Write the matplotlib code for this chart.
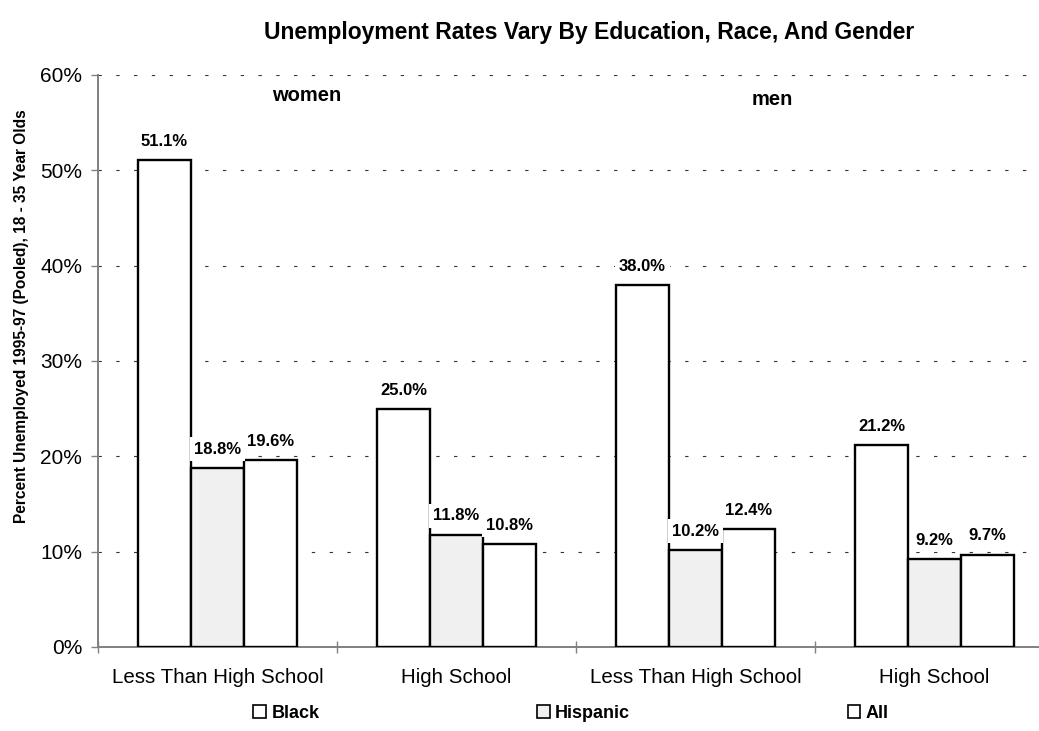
import matplotlib
matplotlib.use("Agg")
import matplotlib.pyplot as plt
from matplotlib.patches import Patch
from matplotlib.ticker import FuncFormatter, FixedLocator
import numpy as np

# ---- data ----
categories = ["Less Than High School", "High School", "Less Than High School", "High School"]
series_names = ["Black", "Hispanic", "All"]
black = [51.1, 25.0, 38.0, 21.2]
hispanic = [18.8, 11.8, 10.2, 9.2]
all_vals = [19.6, 10.8, 12.4, 9.7]
group_labels = ["women", "men"]
yticks = [0, 10, 20, 30, 40, 50, 60]

title = "Unemployment Rates Vary By Education, Race, And Gender"
ylabel = "Percent Unemployed 1995-97 (Pooled), 18 - 35 Year Olds"

plt.rcParams['font.family'] = ['Liberation Sans', 'DejaVu Sans']

W, H = 1039, 731
fig = plt.figure(figsize=(W / 100, H / 100), dpi=100)
left_px, right_px, top_px, bot_px = 98, 1039, 75, 647
ax = fig.add_axes([left_px / W, (H - bot_px) / H, (right_px - left_px) / W, (bot_px - top_px) / H])

x = np.arange(len(categories))
bw = 0.222
fills = ["white", "#f0f0f0", "white"]
series = [black, hispanic, all_vals]
for i, (vals, fc) in enumerate(zip(series, fills)):
    b = ax.bar(x + (i - 1) * bw, vals, width=bw, facecolor=fc, edgecolor="black",
               linewidth=1.7, zorder=3)
    for rect, v in zip(b, vals):
        ax.annotate(f"{v:.1f}%", (rect.get_x() + rect.get_width() / 2, rect.get_height()),
                    xytext=(0, 8), textcoords="offset points", ha="center", va="bottom",
                    fontsize=12, fontweight="bold", zorder=5,
                    bbox=dict(boxstyle="square,pad=0.25", facecolor="white", edgecolor="none"))

ax.set_ylim(0, 60)
ax.set_xlim(-0.5, 3.5 - 15 / 239)
ax.yaxis.set_major_locator(FixedLocator(yticks))
ax.yaxis.set_major_formatter(FuncFormatter(lambda v, p: f"{v:.0f}%"))
ax.set_xticks(x)
ax.set_xticklabels(categories)
ax.xaxis.set_minor_locator(FixedLocator([-0.5, 0.5, 1.5, 2.5]))

ax.tick_params(axis="x", which="major", length=0, pad=15, labelsize=14.8)
ax.tick_params(axis="x", which="minor", direction="inout", length=9, width=1.0, color="#808080")
ax.tick_params(axis="y", which="major", direction="out", length=5, width=1.0, color="#808080",
               pad=6.5, labelsize=15)

ax.grid(axis="y", color="#333333", linewidth=0.8, linestyle=(0, (3, 13)), zorder=1)
ax.set_axisbelow(True)
for s in ["top", "right"]:
    ax.spines[s].set_visible(False)
for s in ["left", "bottom"]:
    ax.spines[s].set_color("#808080")
    ax.spines[s].set_linewidth(1.4)

# group labels (women / men)
ax.text(0.374, 57.9, group_labels[0], ha="center", va="center", fontsize=14.5, fontweight="bold")
ax.text(2.32, 57.4, group_labels[1], ha="center", va="center", fontsize=14.5, fontweight="bold")

fig.text(589.5 / W, 1 - 32 / H, title, ha="center", va="center", fontsize=16.5, fontweight="bold")
fig.text(22 / W, 1 - 316 / H, ylabel, ha="center", va="center", rotation=90,
         fontsize=11.2, fontweight="bold")

handles = [Patch(facecolor=fc, edgecolor="black", linewidth=1.2) for fc in fills]
fig.legend(handles, series_names, loc="center", bbox_to_anchor=(571 / W, 1 - 713 / H),
           ncol=3, frameon=False, handlelength=0.7, handleheight=0.7, handletextpad=0.3,
           columnspacing=12.05, prop=dict(size=13, weight="bold"))

fig.savefig("out.png", dpi=100)
